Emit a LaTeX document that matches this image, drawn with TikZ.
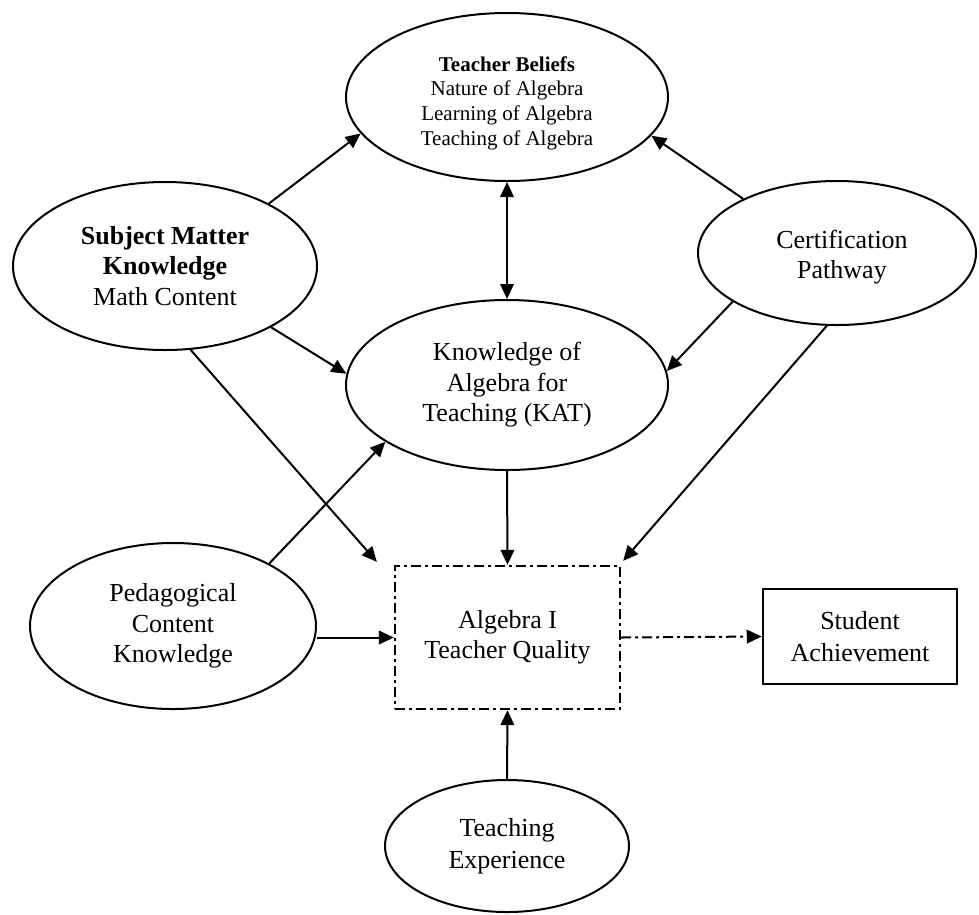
\documentclass[tikz,border=0pt]{standalone}
\usepackage{fontspec}
\setmainfont{Liberation Serif}
\usetikzlibrary{shapes.geometric,arrows.meta}
\begin{document}
\begin{tikzpicture}[x=1pt,y=-1pt,
  oval/.style={ellipse,draw,line width=2pt,inner sep=0pt,align=center,
    font=\fontsize{26}{30.5}\selectfont},
  txt/.style={inner sep=0pt,align=center},
  arr/.style={line width=2pt,-{Triangle[length=15pt,width=13.5pt]}},
  darr/.style={line width=2pt,{Triangle[length=15pt,width=13.5pt]}-{Triangle[length=15pt,width=13.5pt]}},
  dashdot/.style={dash pattern=on 10pt off 4pt on 3pt off 4pt},
  boxq/.style={rectangle,draw,line width=2.3pt,dashdot,inner sep=0pt,align=center,
    font=\fontsize{26}{30.5}\selectfont},
  boxs/.style={rectangle,draw,line width=2.5pt,inner sep=0pt,align=center,
    font=\fontsize{26}{31.5}\selectfont}]
\useasboundingbox (0,0) rectangle (979,914);

\node[oval,minimum width=322pt,minimum height=168pt] (tb) at (507,97) {};
\node[txt,font=\fontsize{21}{24.6}\selectfont] (tbt) at (507,103)
  {\textbf{Teacher Beliefs}\\Nature of Algebra\\Learning of Algebra\\Teaching of Algebra};
\node[oval,minimum width=304pt,minimum height=168pt] (smk) at (165,266)
  {\textbf{Subject Matter}\\\textbf{Knowledge}\\Math Content};
\node[oval,minimum width=278pt,minimum height=144pt] (cert) at (837,253) {};
\node[txt,font=\fontsize{26}{30.5}\selectfont] (certt) at (842,257)
  {Certification\\Pathway};
\node[oval,minimum width=322pt,minimum height=170pt] (kat) at (507,385)
  {Knowledge of\\Algebra for\\Teaching (KAT)};
\node[oval,minimum width=286pt,minimum height=166pt] (pck) at (173,626)
  {Pedagogical\\Content\\Knowledge};
\node[oval,minimum width=244pt,minimum height=132pt,
  font=\fontsize{26}{31.5}\selectfont] (te) at (507,846)
  {Teaching\\Experience};
\node[boxq,minimum width=225pt,minimum height=143pt] (q) at (507.5,637.5)
  {Algebra I\\Teacher Quality};
\node[boxs,minimum width=194pt,minimum height=95pt] (sa) at (860,636.5)
  {Student\\Achievement};

\draw[arr] (smk.31.7) -- (tb.194.1);
\draw[arr] (cert.150.9) -- (tb.345.7);
\draw[darr] (tb.south) -- (kat.north);
\draw[arr] (smk.-30.2) -- (kat.176.4);
\draw[arr] (cert.205) -- (kat.5.3);
\draw[arr] (smk.-73.2) -- ([shift={(-17,-3)}]q.north west);
\draw[arr] (kat.south) -- (q.north);
\draw[arr] (cert.262.9) -- ([shift={(2,-4)}]q.north east);
\draw[arr] (pck.33) -- (kat.205.3);
\draw[arr] (pck.east |- q.west) -- (q.west);
\draw[arr,dashdot] (q.east) -- (sa.west);
\draw[arr] (te.north) -- (q.south);
\end{tikzpicture}
\end{document}
